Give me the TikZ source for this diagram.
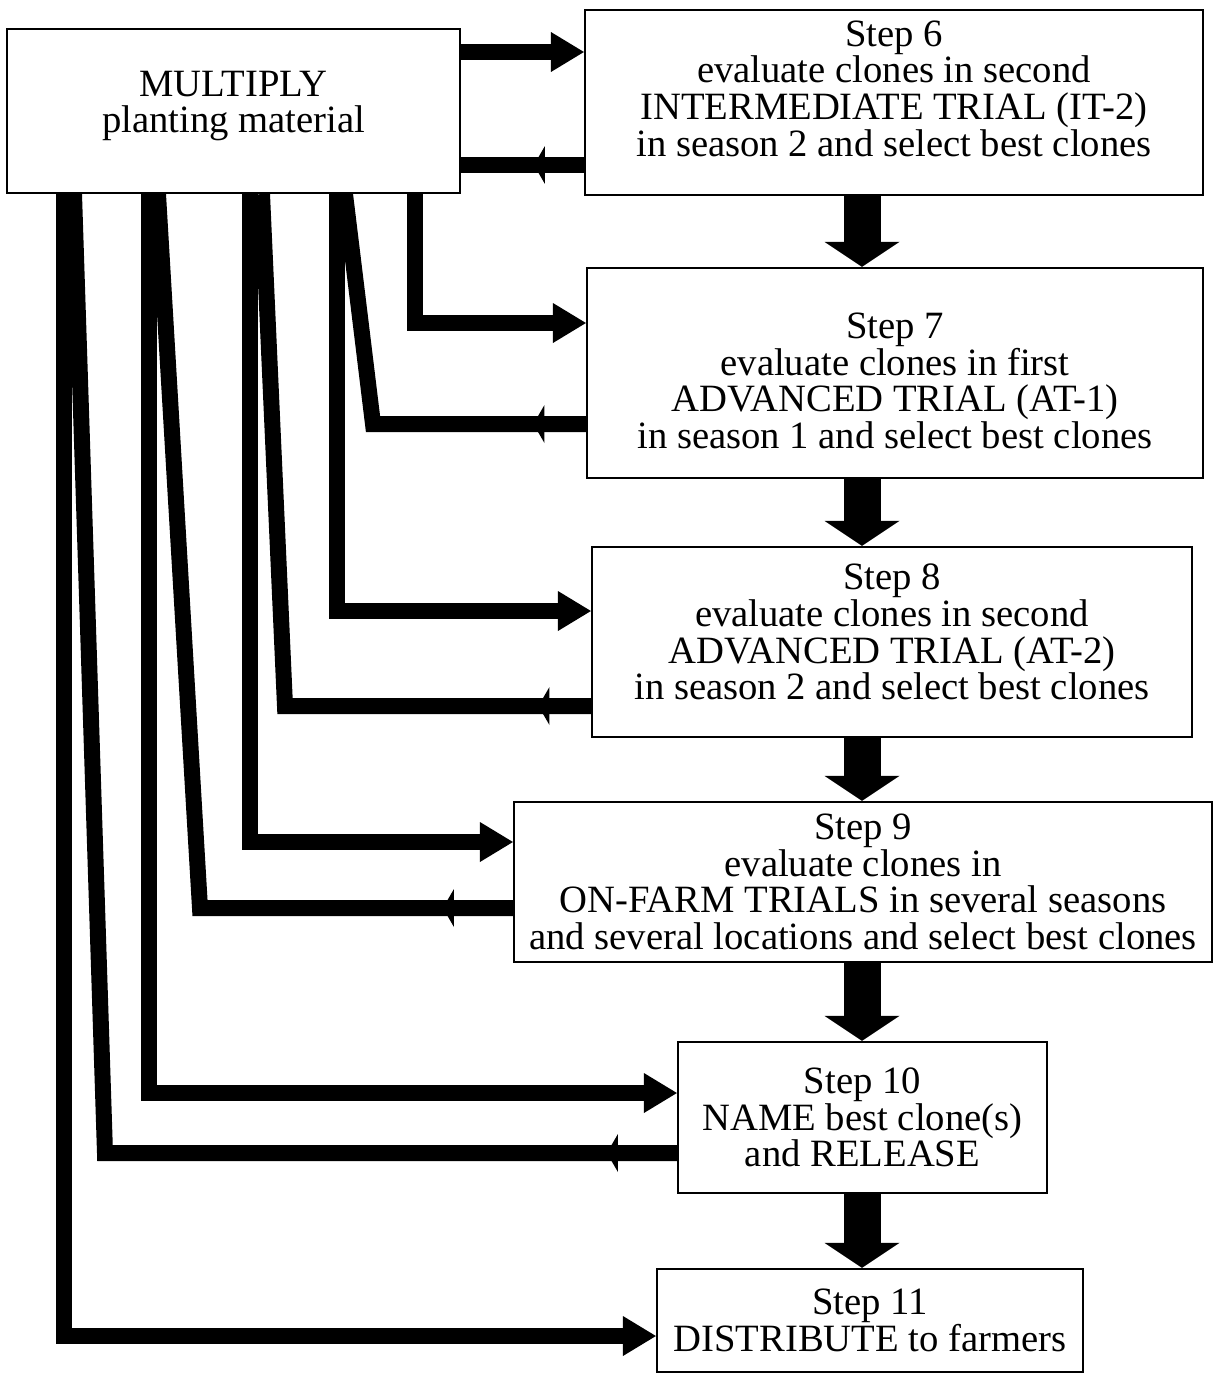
\documentclass[tikz,border=0pt]{standalone}
\usepackage{fontspec}
\setmainfont{Liberation Serif}
\usetikzlibrary{arrows.meta,decorations.markings}
\tikzstyle{stepbox}=[draw,rectangle,line width=1.3pt,inner sep=0pt]
\tikzstyle{steptext}=[inner sep=0pt,align=center,font=\fontsize{22}{20.9}\selectfont]
\tikzstyle{fwd}=[line width=0.32cm,-{Triangle[length=0.66cm,width=0.8cm,line width=0pt]}]
\tikzstyle{down}=[line width=0.74cm,-{Triangle[length=0.5cm,width=1.5cm,line width=0pt]}]
\tikzset{back/.style={line width=0.32cm,postaction={decorate},
  decoration={markings,mark=at position #1 with {\arrow{Triangle[length=0.22cm,width=0.76cm,line width=0pt]}}}}}

\begin{document}
\begin{tikzpicture}[x=0.02cm,y=-0.02cm]
\useasboundingbox (0,0) rectangle (1214,1379);
\node[stepbox,minimum width=9.06cm,minimum height=3.28cm] at (233.5, 111) (mult) {};
\node[steptext] at ([yshift=0.1cm]mult.center) (multt) {MULTIPLY\\planting material};
\node[stepbox,minimum width=12.36cm,minimum height=3.7cm] at (894, 102.5) (s6) {};
\node[steptext] at ([yshift=0.28cm]s6.center) (s6t) {Step 6\\evaluate clones in second\\INTERMEDIATE TRIAL (IT-2)\\in season 2 and select best clones};
\node[stepbox,minimum width=12.32cm,minimum height=4.2cm] at (895, 373) (s7) {};
\node[steptext] at ([yshift=-0.16cm]s7.center) (s7t) {Step 7\\evaluate clones in first\\ADVANCED TRIAL (AT-1)\\in season 1 and select best clones};
\node[stepbox,minimum width=12cm,minimum height=3.8cm] at (892, 642) (s8) {};
\node[steptext] at ([yshift=0.2cm]s8.center) (s8t) {Step 8\\evaluate clones in second\\ADVANCED TRIAL (AT-2)\\in season 2 and select best clones};
\node[stepbox,minimum width=13.96cm,minimum height=3.2cm] at (863, 882) (s9) {};
\node[steptext] at (s9.center) (s9t) {Step 9\\evaluate clones in\\ON-FARM TRIALS in several seasons\\and several locations and select best clones};
\node[stepbox,minimum width=7.38cm,minimum height=3.02cm] at (862.5, 1117.5) (s10) {};
\node[steptext] at (s10.center) (s10t) {Step 10\\NAME best clone(s)\\and RELEASE};
\node[stepbox,minimum width=8.52cm,minimum height=2.06cm] at (870, 1320.5) (s11) {};
\node[steptext] at (s11.center) (s11t) {Step 11\\DISTRIBUTE to farmers};
% main line of steps
\draw[down] (s6.south -| 862,0) -- (s7.north -| 862,0);
\draw[down] (s7.south -| 862,0) -- (s8.north -| 862,0);
\draw[down] (s8.south -| 862,0) -- (s9.north -| 862,0);
\draw[down] (s9.south -| 862,0) -- (s10.north -| 862,0);
\draw[down] (s10.south -| 862,0) -- (s11.north -| 862,0);
% material out and back
\draw[fwd] (mult.east |- 0,52) -- (s6.west |- 0,52);
\draw[back=1cm] (s6.west |- 0,165) -- (mult.east |- 0,165);
\draw[fwd] (mult.south -| 415,0) |- (s7.west |- 0,323);
\draw[back=1.05cm] (s7.west |- 0,424) -- (373,424) -- (mult.south -| 345,0);
\draw[fwd] (mult.south -| 337,0) |- (s8.west |- 0,611);
\draw[back=1.05cm] (s8.west |- 0,706) -- (285,706) -- (mult.south -| 262,0);
\draw[fwd] (mult.south -| 250,0) |- (s9.west |- 0,842);
\draw[back=1.4cm] (s9.west |- 0,908) -- (200,908) -- (mult.south -| 158,0);
\draw[fwd] (mult.south -| 149,0) |- (s10.west |- 0,1093);
\draw[back=1.4cm] (s10.west |- 0,1153) -- (105,1153) -- (mult.south -| 74,0);
\draw[fwd] (mult.south -| 64,0) |- (s11.west |- 0,1336);
\end{tikzpicture}
\end{document}
